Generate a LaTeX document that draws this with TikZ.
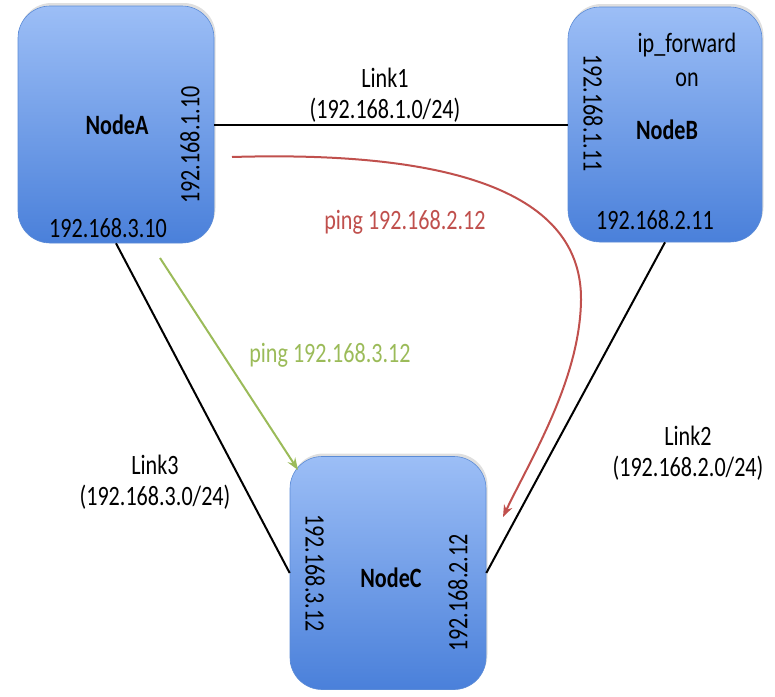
\documentclass[tikz,border=0pt]{standalone}
\usepackage{fontspec}
\setmainfont{Carlito}[FakeStretch=0.79]
\usetikzlibrary{arrows.meta,shadows}
\definecolor{boxtop}{HTML}{9CBEF6}
\definecolor{boxbot}{HTML}{4A80DA}
\definecolor{boxedge}{HTML}{5B8BD6}
\definecolor{pingred}{HTML}{C0504D}
\definecolor{pinggreen}{HTML}{9BBB59}
\tikzset{
  hostbox/.style={rounded corners=32pt, top color=boxtop, bottom color=boxbot, draw=boxedge, line width=0.6pt,
    drop shadow={opacity=0.25, shadow xshift=1.5pt, shadow yshift=3pt}},
  lbl/.style={inner sep=0pt, font=\fontsize{28}{32}\selectfont},
  blbl/.style={lbl, font=\fontsize{28}{32}\selectfont\bfseries},
  link/.style={line width=2pt, black},
  pingr/.style={line width=2pt, pingred, -{Stealth[length=12pt,width=9pt]}},
  pingg/.style={line width=2pt, pinggreen, -{Stealth[length=12pt,width=9pt]}},
}
\begin{document}
\begin{tikzpicture}[x=1pt,y=-1pt]
\useasboundingbox (0,0) rectangle (775,696);
% boxes
\node[hostbox, minimum width=196pt, minimum height=237pt] (A) at (116,124.5) {};
\node[hostbox, minimum width=194pt, minimum height=235pt] (B) at (665,124.5) {};
\node[hostbox, minimum width=196pt, minimum height=233pt] (C) at (388,573) {};
% links
\draw[link] (A.east) -- (B.west);
\draw[link] (A.south) -- (C.west);
\draw[link] (B.south) -- (C.east);
% pings
\coordinate (gs) at (160,258);
\coordinate (ge) at (298,470);
\draw[pingg] (gs) -- (ge);
\coordinate (rs) at (232,157);
\coordinate (re) at (503,517);
\draw[pingr] (rs) .. controls (470,150) and (582,200) .. (581,300) .. controls (580,380) and (530,460) .. (re);
% node A texts
\node[blbl] (An) at (117,125) {NodeA};
\node[lbl] (Aip3) at (108,228) {192.168.3.10};
\node[lbl, rotate=90] (Aip1) at (190,145) {192.168.1.10};
% node B texts
\node[lbl] (Bf) at (687,45) {ip\_forward};
\node[lbl] (Bon) at (687,80) {on};
\node[blbl] (Bn) at (667,130) {NodeB};
\node[lbl, rotate=-90] (Bip1) at (593,113) {192.168.1.11};
\node[lbl] (Bip2) at (655,220) {192.168.2.11};
% node C texts
\node[blbl] (Cn) at (391,578) {NodeC};
\node[lbl, rotate=-90] (Cip3) at (315,573) {192.168.3.12};
\node[lbl, rotate=90] (Cip2) at (458,593) {192.168.2.12};
% link labels
\node[lbl] (L1a) at (385,78) {Link1};
\node[lbl] (L1b) at (385,110) {(192.168.1.0/24)};
\node[lbl] (L3a) at (155,465) {Link3};
\node[lbl] (L3b) at (155,497) {(192.168.3.0/24)};
\node[lbl] (L2a) at (688,436) {Link2};
\node[lbl] (L2b) at (688,468) {(192.168.2.0/24)};
% ping labels
\node[lbl, text=pingred] (pr) at (405,222) {ping 192.168.2.12};
\node[lbl, text=pinggreen] (pg) at (330,355) {ping 192.168.3.12};
\end{tikzpicture}
\end{document}
